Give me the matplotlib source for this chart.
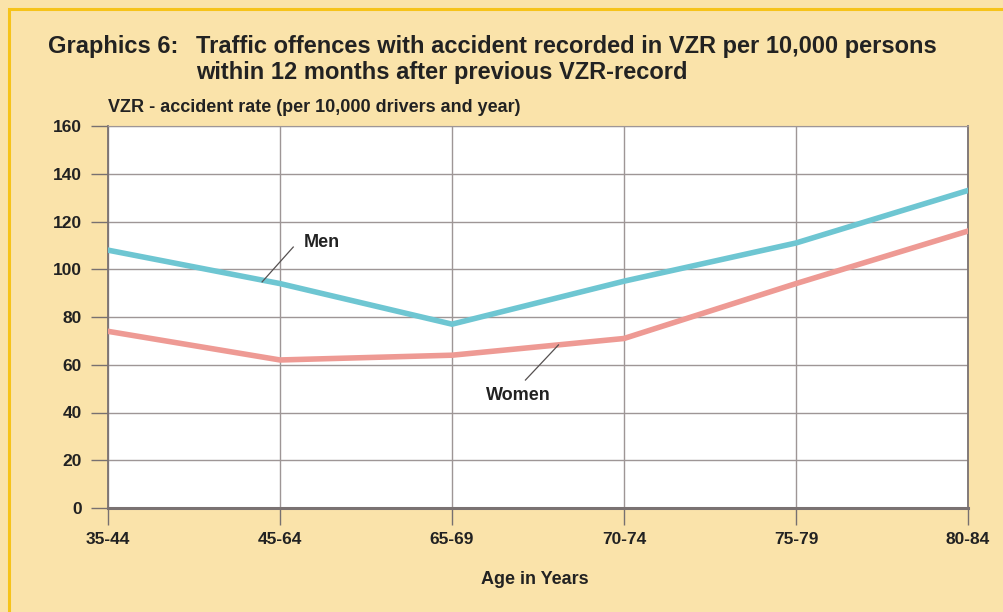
import matplotlib.pyplot as plt
from matplotlib.patches import Rectangle

# -----------------------------
# Data
age_groups = ['35-44', '45-64', '65-69', '70-74', '75-79', '80-84']
men = [108, 94, 77, 95, 111, 133]
women = [74, 62, 64, 71, 94, 116]
y_ticks = [0, 20, 40, 60, 80, 100, 120, 140, 160]

bg = '#FAE3AA'
grid_col = '#9E9696'
txt_col = '#222222'

plt.rcParams['font.family'] = ['Liberation Sans', 'DejaVu Sans']
plt.rcParams['font.weight'] = 'bold'

fig = plt.figure(figsize=(10.04, 6.12), dpi=100, facecolor=bg)
# gold frame on top and left
fig.patches.append(Rectangle((9 / 1004, -0.1), 1.2, 1.1 - 9 / 612, transform=fig.transFigure,
                             fill=False, edgecolor='#F6C31A', linewidth=2.2))

ax = fig.add_axes([108 / 1004, 1 - 508 / 612, (968 - 108) / 1004, (508 - 126) / 612])
ax.set_facecolor('white')

# -----------------------------
# Lines
x = range(len(age_groups))
ax.plot(x, men, color='#6EC6D2', linewidth=4.0, solid_joinstyle='miter', zorder=3)
ax.plot(x, women, color='#EE9A94', linewidth=4.0, solid_joinstyle='miter', zorder=3)

ax.set_xlim(0, len(age_groups) - 1)
ax.set_ylim(0, 160)
ax.set_xticks(list(x))
ax.set_xticklabels(age_groups)
ax.set_yticks(y_ticks)
ax.grid(True, color=grid_col, linewidth=1.0)
ax.set_axisbelow(True)
ax.tick_params(axis='both', length=12, width=1, color='#777070', labelsize=12.5,
               labelcolor=txt_col)
ax.tick_params(axis='y', pad=7)
ax.tick_params(axis='x', pad=5)
for lbl in ax.get_xticklabels() + ax.get_yticklabels():
    lbl.set_fontweight('bold')
for side in ['left', 'bottom', 'right']:
    ax.spines[side].set_color('#7A7272')
    ax.spines[side].set_linewidth(1.3)
ax.spines['bottom'].set_linewidth(2.2)
ax.spines['top'].set_color(grid_col)

# -----------------------------
# Series labels with leader lines
ax.plot([1.077, 0.896], [109.3, 94.7], color='#555050', lw=0.9, zorder=4)
ax.text(1.246, 111, 'Men', fontsize=13, fontweight='bold', color=txt_col,
        ha='center', va='center')
ax.plot([2.619, 2.427], [68.3, 53.6], color='#555050', lw=0.9, zorder=4)
ax.text(2.386, 47.3, 'Women', fontsize=13, fontweight='bold', color=txt_col,
        ha='center', va='center')

# -----------------------------
# Titles and axis labels
fig.text(48 / 1004, 1 - 47 / 612, 'Graphics 6:', fontsize=17, fontweight='bold',
         color=txt_col, va='center')
fig.text(196 / 1004, 1 - 47 / 612, 'Traffic offences with accident recorded in VZR per 10,000 persons',
         fontsize=17, fontweight='bold', color=txt_col, va='center')
fig.text(196 / 1004, 1 - 73 / 612, 'within 12 months after previous VZR-record',
         fontsize=17, fontweight='bold', color=txt_col, va='center')
fig.text(108 / 1004, 1 - 108 / 612, 'VZR - accident rate (per 10,000 drivers and year)',
         fontsize=13, fontweight='bold', color=txt_col, va='center')
fig.text(535 / 1004, 1 - 580 / 612, 'Age in Years', fontsize=13, fontweight='bold',
         color=txt_col, ha='center', va='center')

plt.savefig('out.png', dpi=100, facecolor=bg)
